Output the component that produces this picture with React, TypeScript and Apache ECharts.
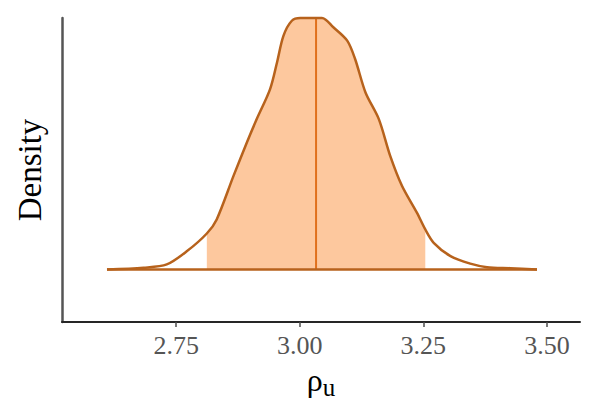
import React, { useEffect, useRef } from "react";
import * as echarts from "echarts";

const densityX = [2.61, 2.684, 2.731, 2.772, 2.812, 2.832, 2.866, 2.893, 2.913, 2.94, 2.954, 2.967, 2.984, 3.001, 3.045, 3.068, 3.096, 3.112, 3.133, 3.16, 3.183, 3.207, 3.237, 3.254, 3.271, 3.305, 3.345, 3.379, 3.426, 3.48];
const densityY = [0, 0.007, 0.02, 0.073, 0.143, 0.199, 0.372, 0.505, 0.598, 0.717, 0.823, 0.929, 0.989, 1.0, 1.0, 0.963, 0.91, 0.837, 0.704, 0.598, 0.452, 0.332, 0.226, 0.159, 0.106, 0.053, 0.023, 0.009, 0.005, 0];
const intervalLow = 2.812;
const intervalHigh = 3.254;
const median = 3.033;
const tickValues = [2.75, 3.0, 3.25, 3.5];
const xMin = 2.519;
const xMax = 3.567;
const yMin = -0.209;
const yMax = 1.0;

const curveColor = "#B7621C";
const fillColor = "#FDC89E";
const medianColor = "#E0701C";
const serif = "'Liberation Serif', 'DejaVu Serif', serif";

export default function App() {
  const ref = useRef<HTMLDivElement>(null);
  useEffect(() => {
    if (!ref.current) return;
    const chart = echarts.init(ref.current, undefined, { renderer: "svg" });
    const curve = densityX.map((x, i) => [x, densityY[i]]);
    const shaded = curve.filter((p) => p[0] >= intervalLow && p[0] <= intervalHigh);
    const baseline = [
      [densityX[0], 0],
      [densityX[densityX.length - 1], 0],
    ];
    chart.setOption({
      animation: false,
      backgroundColor: "#ffffff",
      grid: { left: 62, right: 20, top: 18, bottom: 94 },
      xAxis: {
        type: "value",
        min: xMin,
        max: xMax,
        splitLine: { show: false },
        axisLine: { show: true, onZero: false, lineStyle: { color: "#262626", width: 2 } },
        axisTick: { show: true, customValues: tickValues, length: 5, lineStyle: { color: "#4d4d4d", width: 1.5 } },
        axisLabel: {
          customValues: tickValues,
          formatter: (v: number) => v.toFixed(2),
          fontFamily: serif,
          fontSize: 26,
          color: "#555555",
          margin: 10,
        },
        name: "{a|ρ}{b|u}",
        nameLocation: "middle",
        nameGap: 42,
        nameTextStyle: {
          rich: {
            a: { fontFamily: serif, fontSize: 32, color: "#000" },
            b: { fontFamily: serif, fontSize: 25, color: "#000", verticalAlign: "bottom", padding: [0, 0, -4, 0] },
          },
        },
      },
      yAxis: {
        type: "value",
        min: yMin,
        max: yMax,
        splitLine: { show: false },
        axisTick: { show: false },
        axisLabel: { show: false },
        axisLine: { show: true, onZero: false, lineStyle: { color: "#555555", width: 2.5 } },
        name: "Density",
        nameLocation: "middle",
        nameGap: 16,
        nameRotate: 90,
        nameTextStyle: { fontFamily: serif, fontSize: 33, color: "#000" },
      },
      series: [
        {
          type: "line",
          data: shaded,
          symbol: "none",
          smooth: 0.3,
          lineStyle: { width: 0 },
          areaStyle: { color: fillColor, opacity: 1, origin: 0 },
          z: 1,
          clip: false,
        },
        {
          type: "line",
          data: baseline,
          symbol: "none",
          lineStyle: { color: curveColor, width: 2.5 },
          z: 3,
          clip: false,
        },
        {
          type: "line",
          data: [
            [median, 0],
            [median, yMax],
          ],
          symbol: "none",
          lineStyle: { color: medianColor, width: 2 },
          z: 2,
          clip: false,
        },
        {
          type: "line",
          data: curve,
          symbol: "none",
          smooth: 0.3,
          lineStyle: { color: curveColor, width: 2.5 },
          z: 4,
          clip: false,
        },
      ],
    });
    return () => chart.dispose();
  }, []);
  return <div ref={ref} style={{ position: "fixed", left: 0, top: 0, width: 600, height: 416 }} />;
}
